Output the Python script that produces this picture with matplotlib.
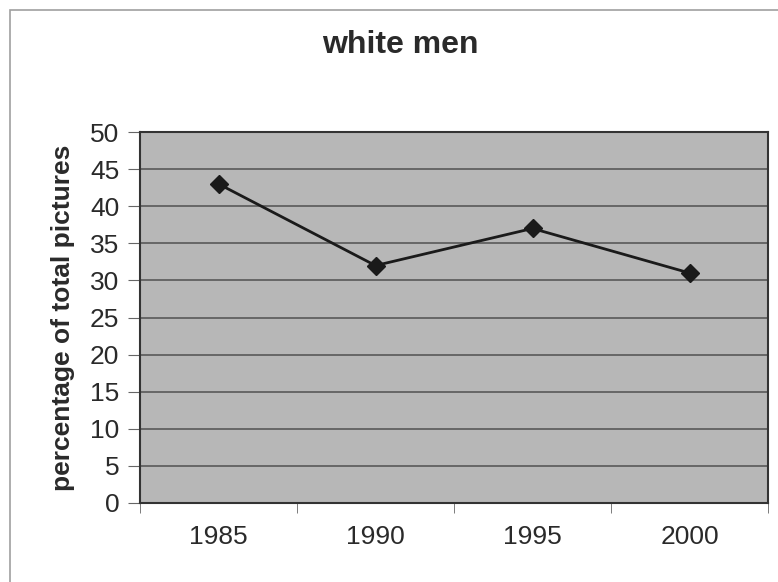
import numpy as np
import matplotlib.pyplot as plt
from matplotlib.patches import Rectangle

plt.rcParams['font.family'] = ['Liberation Sans', 'DejaVu Sans']

# data
years = ['1985', '1990', '1995', '2000']
share = [43, 32, 37, 31]
yticks = list(range(0, 55, 5))

fig = plt.figure(figsize=(7.78, 5.82), dpi=100)
# outer chart frame (only top and left edges show in the reference)
fig.patches.append(Rectangle((10 / 778, -0.1), 1.2, (582 - 10) / 582 + 0.1,
                             transform=fig.transFigure, fill=False,
                             edgecolor='#a0a0a0', linewidth=1.2))

ax = fig.add_axes([140 / 778, 79 / 582, 628 / 778, 371 / 582])
ax.set_facecolor('#b7b7b7')

x = np.arange(len(years))
ax.plot(x, share, color='#1a1a1a', linewidth=2, marker='D', markersize=9,
        markerfacecolor='#1a1a1a', zorder=3)

ax.set_xlim(-0.5, len(years) - 0.5)
ax.set_ylim(0, 50)
ax.set_yticks(yticks)
ax.set_yticklabels([str(v) for v in yticks], fontsize=19, color='#2a2a2a')
ax.yaxis.grid(True, color='#505050', linewidth=1.1)
ax.set_axisbelow(True)

ax.set_xticks(x)
ax.set_xticklabels(years, fontsize=19, color='#2a2a2a')
ax.tick_params(axis='x', length=0, pad=16)
ax.set_xticks(np.arange(-0.5, len(years)), minor=True)
ax.tick_params(axis='x', which='minor', length=7, color='#666666')
ax.tick_params(axis='y', length=9, color='#666666', pad=6)

for s in ax.spines.values():
    s.set_color('#333333')
    s.set_linewidth(1.5)

fig.text(63 / 778, 1 - 318 / 582, 'percentage of total pictures',
         rotation=90, ha='center', va='center', fontsize=19,
         fontweight='bold', color='#2a2a2a')
fig.text(400 / 778, 1 - 53 / 582, 'white men', ha='center', va='baseline',
         fontsize=23, fontweight='bold', color='#2a2a2a')

fig.savefig('out.png', dpi=100)
